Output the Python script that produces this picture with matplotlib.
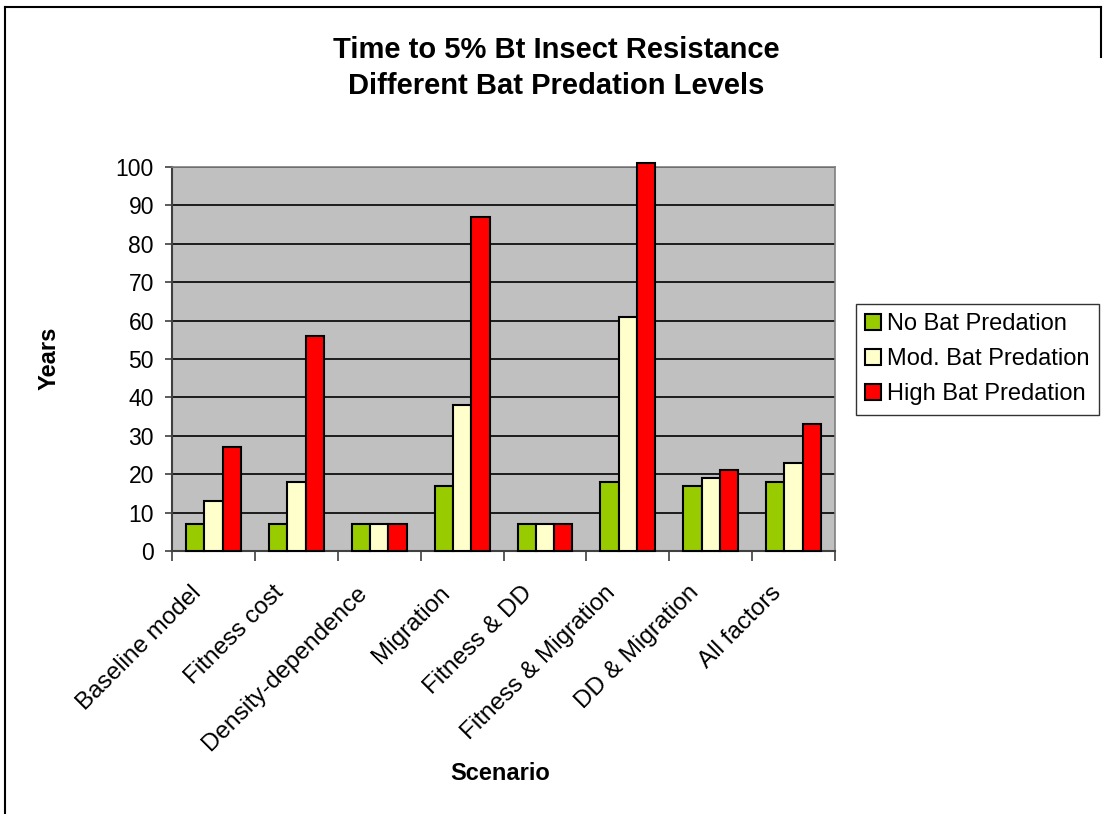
import numpy as np
import matplotlib
matplotlib.use("Agg")
import matplotlib.pyplot as plt
import matplotlib.transforms as mtransforms
from matplotlib.lines import Line2D

# === Données ===
scenarios = ["Baseline model", "Fitness cost", "Density-dependence", "Migration",
             "Fitness & DD", "Fitness & Migration", "DD & Migration", "All factors"]
no_bat = [7, 7, 7, 17, 7, 18, 17, 18]
mod_bat = [13, 18, 7, 38, 7, 61, 19, 23]
high_bat = [27, 56, 7, 87, 7, 101, 21, 33]   # dépasse 100 pour Fitness & Migration
series_names = ["No Bat Predation", "Mod. Bat Predation", "High Bat Predation"]
series_colors = ["#99CC00", "#FFFFCC", "#FF0000"]
y_ticks = list(range(0, 101, 10))

plt.rcParams['font.family'] = ['Liberation Sans', 'DejaVu Sans']

fig = plt.figure(figsize=(11.05, 8.14), dpi=100)
ax = fig.add_axes([0.1557, 0.3231, 0.6, 0.4717])
ax.set_facecolor("#C0C0C0")

x = np.arange(len(scenarios))
w = 0.221
for i, (vals, name, col) in enumerate(zip([no_bat, mod_bat, high_bat], series_names, series_colors)):
    bars = ax.bar(x + (i - 1) * w, vals, w, color=col, edgecolor="black",
                  linewidth=1.5, label=name, zorder=3)
    for b in bars:
        b.set_clip_on(False)

ax.set_xlim(-0.5, len(scenarios) - 0.5)
ax.set_ylim(0, 100)
ax.set_yticks(y_ticks)
ax.tick_params(axis='y', labelsize=16.5, length=5, width=1.2, pad=8, color="#404040")
ax.yaxis.grid(True, color="black", linewidth=1.2, zorder=1)
ax.set_axisbelow(True)

# étiquettes catégories au centre, traits de graduation aux frontières
ax.set_xticks(x)
ax.set_xticklabels(scenarios, rotation=45, ha='right', va='top', fontsize=17.5)
ax.tick_params(axis='x', which='major', length=0, pad=22)
ax.set_xticks(np.arange(-0.5, len(scenarios), 1), minor=True)
ax.tick_params(axis='x', which='minor', length=7, width=1.2, color="#404040")
decal = mtransforms.ScaledTranslation(-8 / 100, 0, fig.dpi_scale_trans)
for lab in ax.get_xticklabels():
    lab.set_transform(lab.get_transform() + decal)

for side in ["top", "right"]:
    ax.spines[side].set_color("#808080")
    ax.spines[side].set_linewidth(1.2)
for side in ["left", "bottom"]:
    ax.spines[side].set_color("#404040")
    ax.spines[side].set_linewidth(1.5)

fig.text(0.0443, 0.5602, "Years", fontsize=17, fontweight='bold', rotation=90,
         ha='center', va='center')
fig.text(0.4525, 0.0503, "Scenario", fontsize=17, fontweight='bold', ha='center', va='center')

fig.text(0.503, 0.9386, "Time to 5% Bt Insect Resistance", fontsize=21,
         fontweight='bold', ha='center', va='center')
fig.text(0.503, 0.8943, "Different Bat Predation Levels", fontsize=21,
         fontweight='bold', ha='center', va='center')

leg = fig.legend(loc='upper left', bbox_to_anchor=(0.7747, 0.6265), fontsize=17,
                 frameon=True, fancybox=False, borderpad=0.4, labelspacing=0.55,
                 handlelength=0.65, handleheight=0.65, handletextpad=0.25,
                 borderaxespad=0)
leg.get_frame().set_edgecolor("black")
leg.get_frame().set_linewidth(1.0)

# cadre partiel de l'image
fig.add_artist(Line2D([0.0045, 0.0045], [0.0, 0.9914], color="black", lw=1.5))
fig.add_artist(Line2D([0.0045, 0.996], [0.9914, 0.9914], color="black", lw=1.5))
fig.add_artist(Line2D([0.996, 0.996], [0.9914, 0.93], color="black", lw=1.5))

fig.savefig("out.png", dpi=100)
